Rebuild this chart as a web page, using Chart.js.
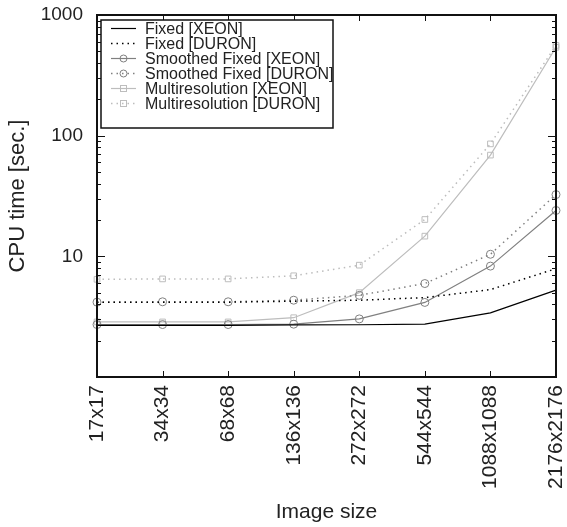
<!DOCTYPE html>
<html>
<head>
<meta charset="utf-8">
<script src="https://cdn.jsdelivr.net/npm/chart.js@4.4.0/dist/chart.umd.min.js"></script>
<style>
  html, body { margin: 0; padding: 0; background: #fff; }
  #wrap { width: 567px; height: 527px; }
</style>
</head>
<body>
<div id="wrap"><canvas id="cpuChart"></canvas></div>
<script>
// image sizes on x axis
var imageSizes = ["17x17", "34x34", "68x68", "136x136", "272x272", "544x544", "1088x1088", "2176x2176"];

// CPU time [sec.]
var fixedXeon      = [2.68, 2.68, 2.68, 2.70, 2.71, 2.74, 3.40, 5.25];
var fixedDuron     = [4.17, 4.17, 4.17, 4.25, 4.33, 4.55, 5.30, 7.90];
var smoothedXeon   = [2.72, 2.72, 2.72, 2.74, 3.03, 4.15, 8.30, 24.0];
var smoothedDuron  = [4.17, 4.20, 4.20, 4.33, 4.75, 5.95, 10.4, 32.5];
var multiresXeon   = [2.86, 2.86, 2.86, 3.10, 5.00, 14.7, 69.0, 540];
var multiresDuron  = [6.45, 6.50, 6.50, 6.90, 8.45, 20.2, 85.5, 560];

var yMajorTicks = [10, 100, 1000];

var dotted = [1.5, 4];
var yazi = "'Liberation Sans', Arial, sans-serif";

// gnuplot tarzı çerçeve, içe bakan tikler ve kutulu lejant
var gnuplotFrame = {
  id: "gnuplotFrame",
  afterDatasetsDraw: function (chart) {
    var ctx = chart.ctx;
    var a = chart.chartArea;
    var x = chart.scales.x, y = chart.scales.y;
    ctx.save();
    ctx.strokeStyle = "#111";
    ctx.lineWidth = 1;
    ctx.beginPath();
    // y tikleri
    for (var d = 1; d < 1000; d *= 10) {
      for (var m = 1; m <= 10; m++) {
        var v = d * m;
        if (v <= 1 || v > 1000) continue;
        var py = Math.round(y.getPixelForValue(v)) + 0.5;
        var len = (m === 10) ? 8 : 4;
        ctx.moveTo(a.left, py); ctx.lineTo(a.left + len, py);
        ctx.moveTo(a.right, py); ctx.lineTo(a.right - len, py);
      }
    }
    // x tikleri
    for (var i = 0; i < imageSizes.length; i++) {
      var px = Math.round(x.getPixelForValue(i)) + 0.5;
      ctx.moveTo(px, a.bottom); ctx.lineTo(px, a.bottom - 6);
      ctx.moveTo(px, a.top); ctx.lineTo(px, a.top + 6);
    }
    ctx.stroke();

    ctx.lineWidth = 2;
    ctx.strokeRect(a.left, a.top, a.right - a.left, a.bottom - a.top);

    // lejant
    var bx = 101, by = 20, bw = 232, bh = 108;
    ctx.lineWidth = 1.5;
    ctx.strokeStyle = "#111";
    ctx.fillStyle = "#fff";
    ctx.fillRect(bx, by, bw, bh);
    ctx.strokeRect(bx, by, bw, bh);
    ctx.font = "16px " + yazi;
    ctx.textBaseline = "middle";
    chart.data.datasets.forEach(function (ds, k) {
      var ly = 28.5 + k * 15;
      ctx.strokeStyle = ds.borderColor;
      ctx.lineWidth = ds.borderWidth;
      ctx.setLineDash(ds.borderDash || []);
      ctx.beginPath();
      ctx.moveTo(111, ly); ctx.lineTo(136, ly);
      ctx.stroke();
      ctx.setLineDash([]);
      ctx.lineWidth = 1;
      if (ds.pointRadius > 0 && ds.pointStyle === "circle") {
        ctx.beginPath(); ctx.arc(123.5, ly, 3.5, 0, Math.PI * 2); ctx.stroke();
      } else if (ds.pointRadius > 0 && ds.pointStyle === "rect") {
        ctx.strokeRect(120.5, ly - 3, 6, 6);
      }
      ctx.fillStyle = "#222";
      ctx.fillText(ds.label, 145, ly + 1);
    });
    ctx.restore();
  }
};

function seri(label, data, color, dash, point) {
  return {
    label: label,
    data: data,
    borderColor: color,
    backgroundColor: "transparent",
    borderWidth: dash ? 1.5 : 1.2,
    borderDash: dash || [],
    pointStyle: point || "circle",
    pointRadius: point ? 4 : 0,
    pointBorderColor: color,
    pointBorderWidth: 1,
    pointBackgroundColor: "transparent",
    tension: 0,
    fill: false
  };
}

var ctx = document.getElementById("cpuChart");
var myChart = new Chart(ctx, {
  type: "line",
  data: {
    labels: imageSizes,
    datasets: [
      seri("Fixed [XEON]", fixedXeon, "#000000", null, null),
      seri("Fixed [DURON]", fixedDuron, "#000000", dotted, null),
      seri("Smoothed Fixed [XEON]", smoothedXeon, "#808080", null, "circle"),
      seri("Smoothed Fixed [DURON]", smoothedDuron, "#808080", dotted, "circle"),
      seri("Multiresolution [XEON]", multiresXeon, "#bdbdbd", null, "rect"),
      seri("Multiresolution [DURON]", multiresDuron, "#bdbdbd", dotted, "rect")
    ]
  },
  options: {
    responsive: true,
    maintainAspectRatio: false,
    animation: false,
    layout: { padding: { left: 0, right: 11, top: 15, bottom: 0 } },
    plugins: { legend: { display: false }, tooltip: { enabled: false } },
    scales: {
      x: {
        type: "category",
        offset: false,
        grid: { display: false, drawTicks: false },
        border: { display: false },
        ticks: {
          autoSkip: false, maxRotation: 90, minRotation: 90, padding: 8,
          color: "#222", font: { family: yazi, size: 21 }
        },
        title: {
          display: true, text: "Image size", color: "#222",
          font: { family: yazi, size: 21 },
          padding: { top: 0, bottom: 2 }
        },
        afterFit: function (s) { s.height = 150; s.paddingLeft = 0; s.paddingRight = 0; }
      },
      y: {
        type: "logarithmic",
        min: 1,
        max: 1000,
        grid: { display: false, drawTicks: false },
        border: { display: false },
        afterBuildTicks: function (s) {
          s.ticks = yMajorTicks.map(function (v) { return { value: v }; });
        },
        ticks: {
          padding: 14, color: "#222",
          font: { family: yazi, size: 19 },
          callback: function (v) { return String(v); }
        },
        title: {
          display: true, text: "CPU time [sec.]", color: "#222",
          font: { family: yazi, size: 22 },
          padding: { top: 5, bottom: 0 }
        },
        afterFit: function (s) { s.width = 97; s.paddingTop = 0; s.paddingBottom = 0; }
      }
    }
  },
  plugins: [gnuplotFrame]
});
</script>
</body>
</html>
